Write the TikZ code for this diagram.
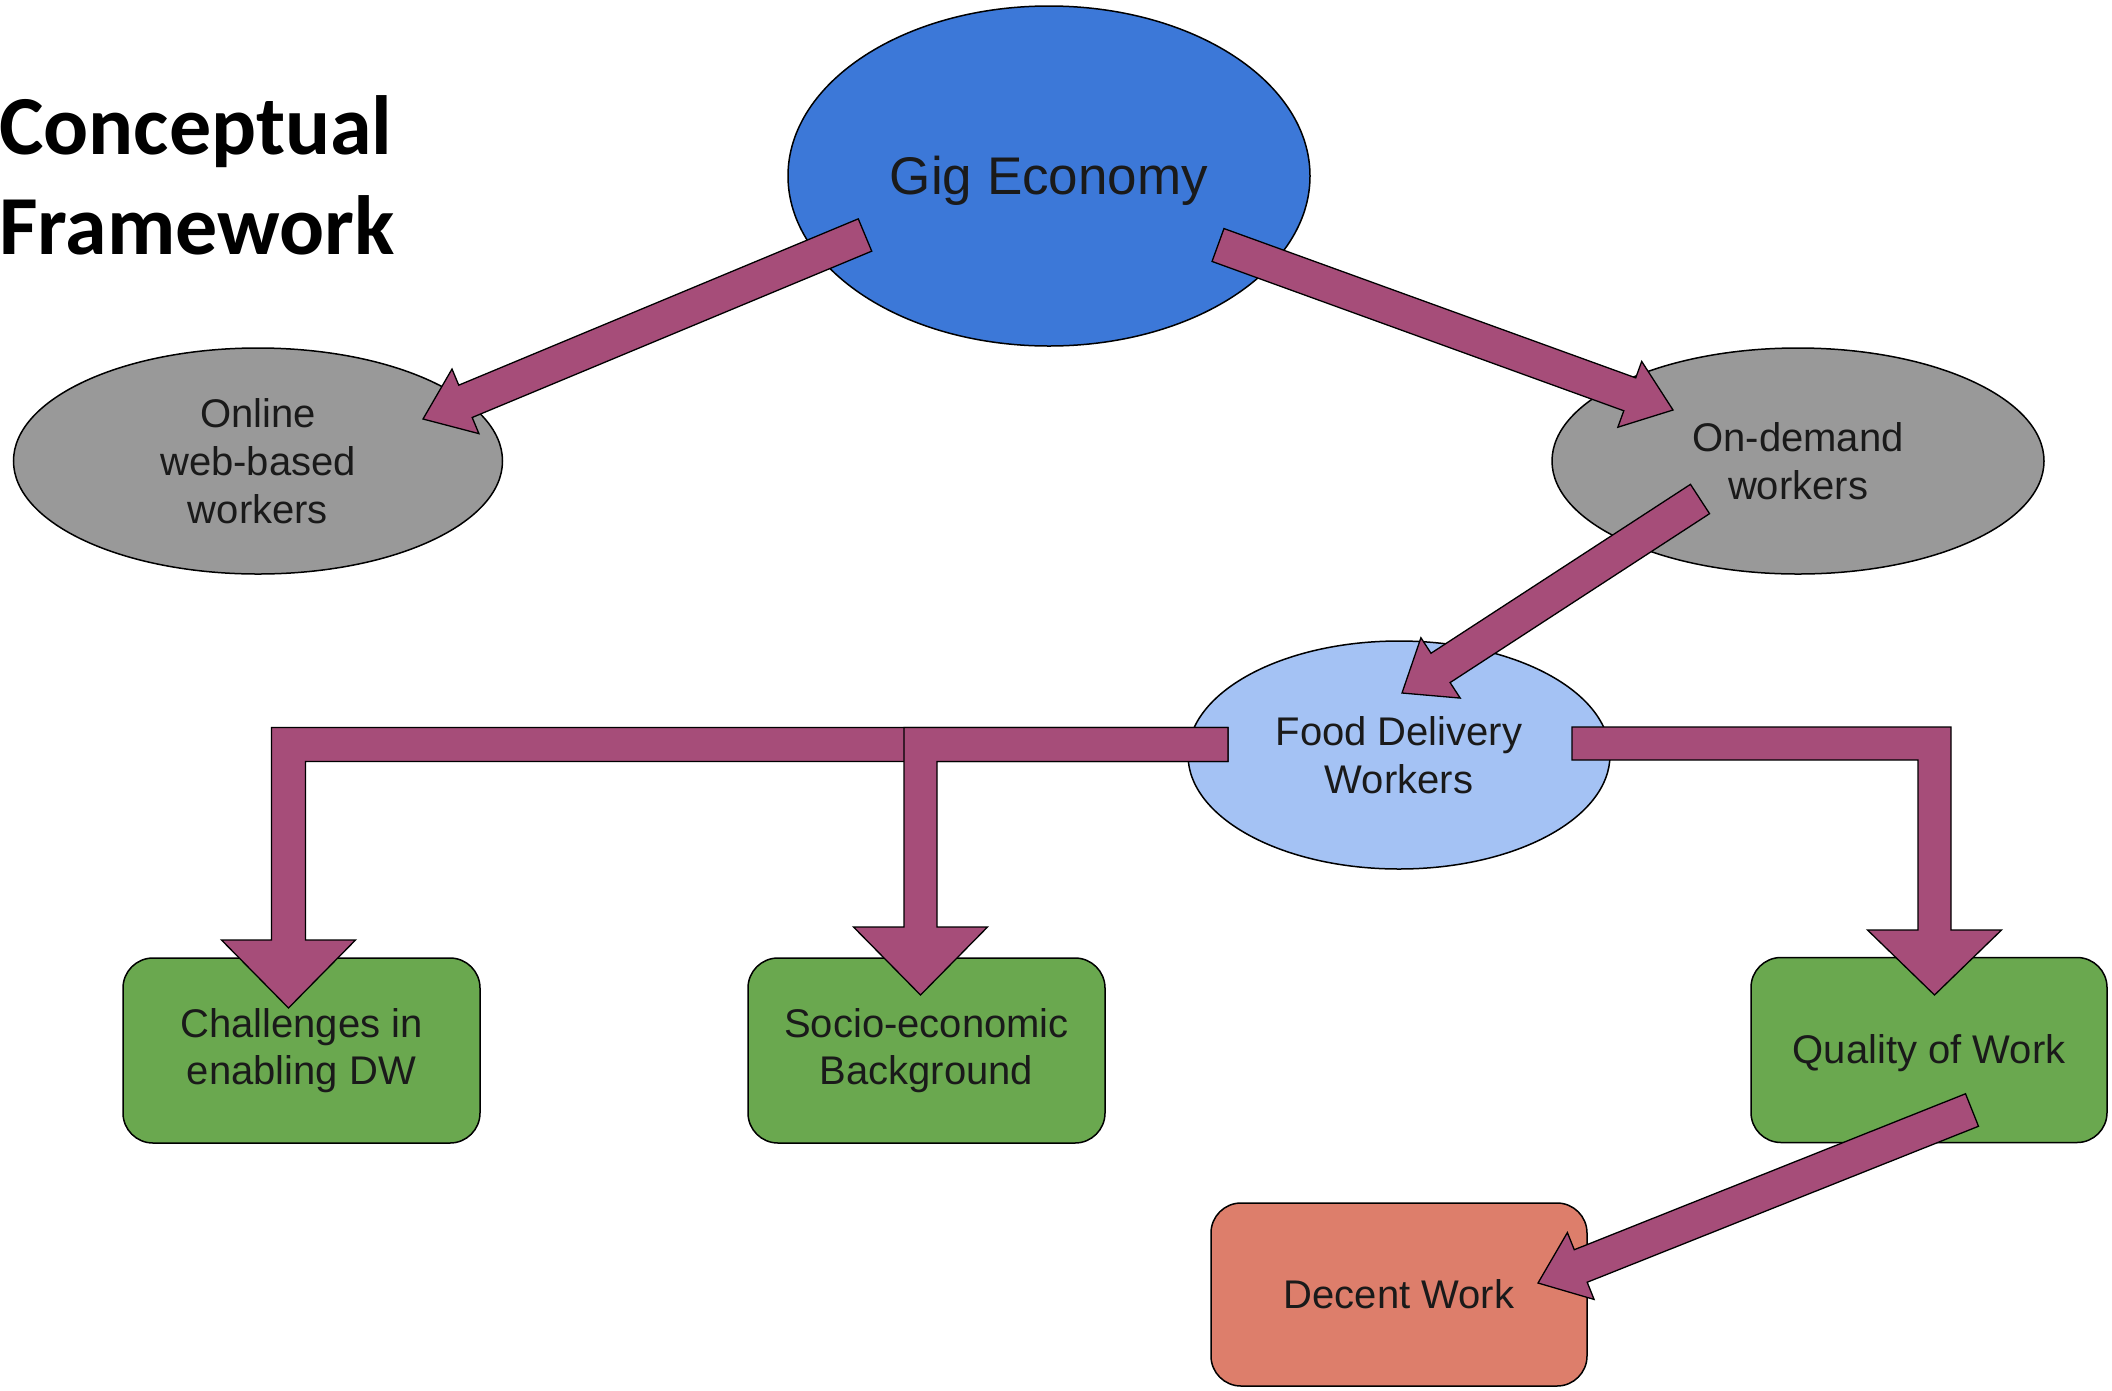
\documentclass[tikz,border=0pt]{standalone}
\usepackage{fontspec}
\setmainfont{Liberation Sans}
\newfontfamily\titlefont{Carlito}
\usetikzlibrary{shapes.geometric,calc}
\definecolor{gigblue}{HTML}{3C78D8}
\definecolor{grayfill}{HTML}{999999}
\definecolor{foodblue}{HTML}{A4C2F4}
\definecolor{boxgreen}{HTML}{6AA84F}
\definecolor{decentred}{HTML}{DD7E6B}
\definecolor{arrowpurple}{HTML}{A64D79}
\definecolor{inktext}{HTML}{1A1A1A}
\tikzset{
  ovalnode/.style={ellipse, draw=black, line width=1.5pt, inner sep=0pt, align=center,
    text=inktext, font=\fontsize{40}{48}\selectfont},
  boxnode/.style={rectangle, rounded corners=30pt, draw=black, line width=1.5pt, inner sep=0pt,
    align=center, text=inktext, font=\fontsize{40}{47}\selectfont},
  fatarrow/.style={fill=arrowpurple, draw=black, line width=1.3pt, line join=miter},
  titletext/.style={anchor=base west, inner sep=0pt, text=black,
    font=\titlefont\bfseries\fontsize{84}{100}\selectfont},
}
% tail, tip, shaft half width, head half width, head length
\newcommand{\drawfat}[5]{%
  \coordinate (fa-b) at ($(#2)!#5!(#1)$);
  \draw[fatarrow] ($(#1)!#3!90:(#2)$) -- ($(fa-b)!#3!-90:(#1)$) -- ($(fa-b)!#4!-90:(#1)$)
    -- (#2) -- ($(fa-b)!#4!90:(#1)$) -- ($(fa-b)!#3!90:(#1)$) -- ($(#1)!#3!-90:(#2)$) -- cycle;
}
\begin{document}
\begin{tikzpicture}[x=1pt,y=-1pt]
\useasboundingbox (0,0) rectangle (2112,1390);

% title
\node[titletext] (title1) at (-1,154) {Conceptual};
\node[titletext] (title2) at (-1,254) {Framework};

% ovals
\node[ovalnode, fill=gigblue, minimum width=522pt, minimum height=340pt,
      font=\fontsize{53}{64}\selectfont, text height=48pt, text depth=11pt] (gig) at (1049,176) {Gig Economy};
\node[ovalnode, fill=grayfill, minimum width=489pt, minimum height=226pt] (online) at (258,461)
      {Online\\web-based\\workers};
\node[ovalnode, fill=grayfill, minimum width=492pt, minimum height=226pt] (ondemand) at (1798,461)
      {On-demand\\workers};
\node[ovalnode, fill=foodblue, minimum width=422pt, minimum height=228pt] (food) at (1399,755)
      {Food Delivery\\Workers};

% boxes
\node[boxnode, fill=boxgreen, minimum width=357pt, minimum height=185pt] (chall) at (301.5,1050.5)
      {Challenges in\\enabling DW};
\node[boxnode, fill=boxgreen, minimum width=357pt, minimum height=185pt] (socio) at (926.5,1050.5)
      {Socio-economic\\Background};
\node[boxnode, fill=boxgreen, minimum width=356pt, minimum height=185pt,
      text height=36pt, text depth=8.5pt] (quality) at (1929,1050) {Quality of Work};
\node[boxnode, fill=decentred, minimum width=376pt, minimum height=183pt] (decent) at (1399,1294.5)
      {Decent Work};

% diagonal arrow ends
\coordinate (a1s) at ($(gig)+(-184,59)$);
\coordinate (a1e) at ($(online)+(165,-42)$);
\coordinate (a2s) at ($(gig)+(169,69)$);
\coordinate (a2e) at ($(ondemand)+(-125,-51)$);
\coordinate (a3s) at ($(ondemand)+(-98,38)$);
\coordinate (a3e) at ($(food)+(3,-62)$);
\coordinate (a4s) at ($(quality)+(43,60)$);
\coordinate (a4e) at ($(decent)+(139,-11.5)$);

\drawfat{a1s}{a1e}{17.5pt}{35pt}{46pt}
\drawfat{a2s}{a2e}{17.5pt}{35pt}{46pt}
\drawfat{a3s}{a3e}{17.5pt}{36pt}{46pt}
\drawfat{a4s}{a4e}{17.5pt}{36pt}{46pt}

% elbow arrow ends
\coordinate (fls) at ($(food)+(-171,-10.5)$);
\coordinate (fle) at ($(chall)+(-13,-42.5)$);
\coordinate (fms) at ($(food)+(-171,-10.5)$);
\coordinate (fme) at ($(socio)+(-6,-55.5)$);
\coordinate (frs) at ($(food)+(173,-11.5)$);
\coordinate (fre) at ($(quality)+(5.5,-55)$);

% Food -> Challenges
\draw[fatarrow] ($(fls)+(0,-17)$) -- ($(fle |- fls)+(-17,-17)$) -- ($(fle)+(-17,-68)$)
  -- ($(fle)+(-67,-68)$) -- (fle) -- ($(fle)+(67,-68)$) -- ($(fle)+(17,-68)$)
  -- ($(fle |- fls)+(17,17)$) -- ($(fls)+(0,17)$) -- cycle;
% Food -> Socio-economic
\draw[fatarrow] ($(fms)+(0,-17)$) -- ($(fme |- fms)+(-16.5,-17)$) -- ($(fme)+(-16.5,-68)$)
  -- ($(fme)+(-67,-68)$) -- (fme) -- ($(fme)+(67,-68)$) -- ($(fme)+(16.5,-68)$)
  -- ($(fme |- fms)+(16.5,17)$) -- ($(fms)+(0,17)$) -- cycle;
% Food -> Quality
\draw[fatarrow] ($(frs)+(0,-16.5)$) -- ($(fre |- frs)+(16.5,-16.5)$) -- ($(fre)+(16.5,-65)$)
  -- ($(fre)+(67,-65)$) -- (fre) -- ($(fre)+(-67,-65)$) -- ($(fre)+(-16.5,-65)$)
  -- ($(fre |- frs)+(-16.5,16.5)$) -- ($(frs)+(0,16.5)$) -- cycle;
\end{tikzpicture}
\end{document}
